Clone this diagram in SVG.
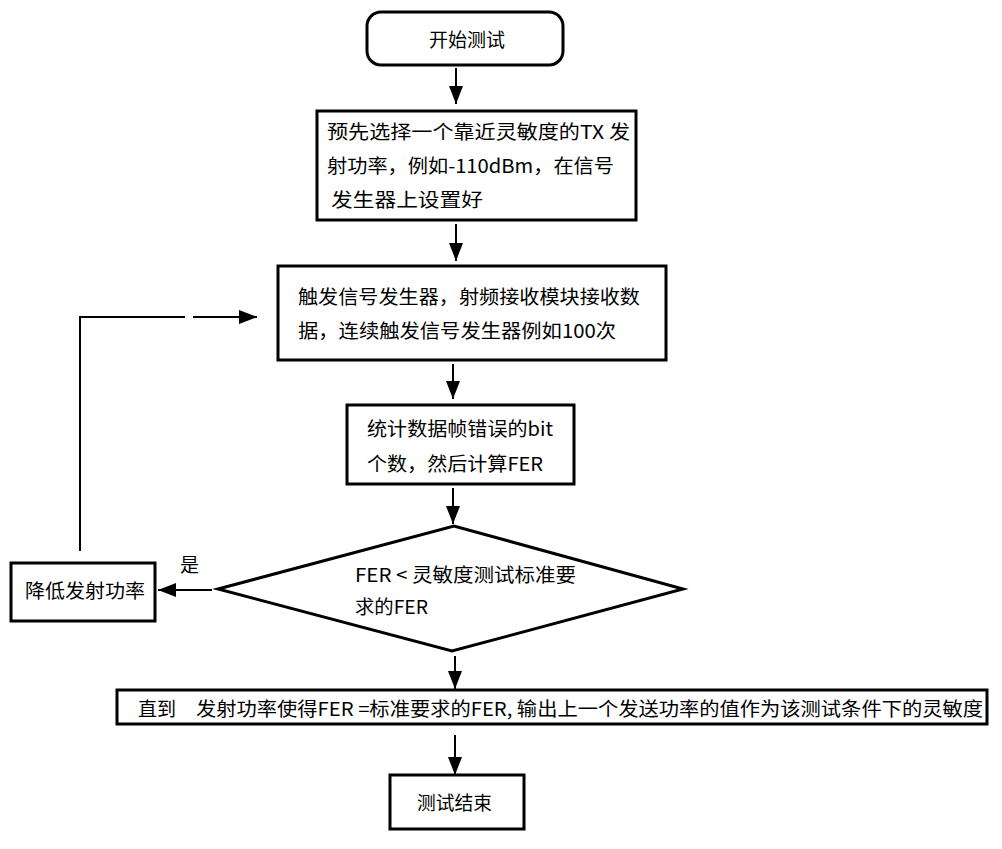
<svg xmlns="http://www.w3.org/2000/svg" width="1002" height="849" viewBox="0 0 1002 849">
<style>
.box{fill:#fff;stroke:#000;stroke-width:3}
.ln{fill:none;stroke:#000;stroke-width:2}
text{font-family:"Noto Sans CJK SC","Microsoft YaHei",sans-serif;font-size:19px;fill:#000}
</style>
<defs>
<marker id="a" viewBox="0 0 18 14" refX="18" refY="7" markerWidth="18" markerHeight="14" markerUnits="userSpaceOnUse" orient="auto">
<path d="M0,0 L18,7 L0,14 z" fill="#000"/>
</marker>
</defs>
<rect width="1002" height="849" fill="#fff"/>
<g id="connectors">
<line class="ln" x1="456" y1="68" x2="456" y2="104" marker-end="url(#a)"/>
<line class="ln" x1="456" y1="224" x2="456" y2="261" marker-end="url(#a)"/>
<line class="ln" x1="453" y1="364" x2="453" y2="399" marker-end="url(#a)"/>
<line class="ln" x1="453" y1="488" x2="453" y2="524" marker-end="url(#a)"/>
<line class="ln" x1="212" y1="590" x2="158" y2="590" marker-end="url(#a)"/>
<polyline class="ln" points="80,551 80,317 185,317"/>
<line class="ln" x1="193" y1="317" x2="257" y2="317" marker-end="url(#a)"/>
<line class="ln" x1="455" y1="656" x2="455" y2="689" marker-end="url(#a)"/>
<line class="ln" x1="455" y1="735" x2="455" y2="775" marker-end="url(#a)"/>
<text x="180" y="572" font-size="18">是</text>
</g>
<g id="start">
<rect class="box" x="367" y="12" width="196" height="53" rx="14"/>
<text x="467" y="47" text-anchor="middle">开始测试</text>
</g>
<g id="select">
<rect class="box" x="317" y="111" width="319" height="109"/>
<text x="327" y="139" textLength="303" lengthAdjust="spacingAndGlyphs">预先选择一个靠近灵敏度的TX 发</text>
<text x="327" y="173" textLength="287" lengthAdjust="spacingAndGlyphs">射功率，例如-110dBm，在信号</text>
<text x="331" y="207" textLength="152" lengthAdjust="spacingAndGlyphs">发生器上设置好</text>
</g>
<g id="trigger">
<rect class="box" x="278" y="266" width="388" height="94"/>
<text x="298" y="304" textLength="342" lengthAdjust="spacingAndGlyphs">触发信号发生器，射频接收模块接收数</text>
<text x="298" y="338" textLength="318" lengthAdjust="spacingAndGlyphs">据，连续触发信号发生器例如100次</text>
</g>
<g id="stat">
<rect class="box" x="347" y="405" width="227" height="79"/>
<text x="367" y="436" textLength="186" lengthAdjust="spacingAndGlyphs">统计数据帧错误的bit</text>
<text x="367" y="471" textLength="176" lengthAdjust="spacingAndGlyphs">个数，然后计算FER</text>
</g>
<g id="decision">
<polygon points="218,589 454,526 683,589 452,651" fill="#fff" stroke="#000" stroke-width="3"/>
<text x="355" y="582" textLength="221" lengthAdjust="spacingAndGlyphs">FER &lt; 灵敏度测试标准要</text>
<text x="355" y="614" textLength="73" lengthAdjust="spacingAndGlyphs">求的FER</text>
</g>
<g id="lower">
<rect class="box" x="11" y="563" width="144" height="58"/>
<text x="25" y="598" textLength="120" lengthAdjust="spacingAndGlyphs">降低发射功率</text>
</g>
<g id="until">
<rect class="box" x="117" y="690" width="870" height="34"/>
<text x="138" y="716">直到<tspan x="196" textLength="787" lengthAdjust="spacingAndGlyphs">发射功率使得FER =标准要求的FER, 输出上一个发送功率的值作为该测试条件下的灵敏度</tspan></text>
</g>
<g id="end">
<rect class="box" x="390" y="775" width="134" height="54"/>
<text x="417" y="810" textLength="75" lengthAdjust="spacingAndGlyphs">测试结束</text>
</g>
</svg>
